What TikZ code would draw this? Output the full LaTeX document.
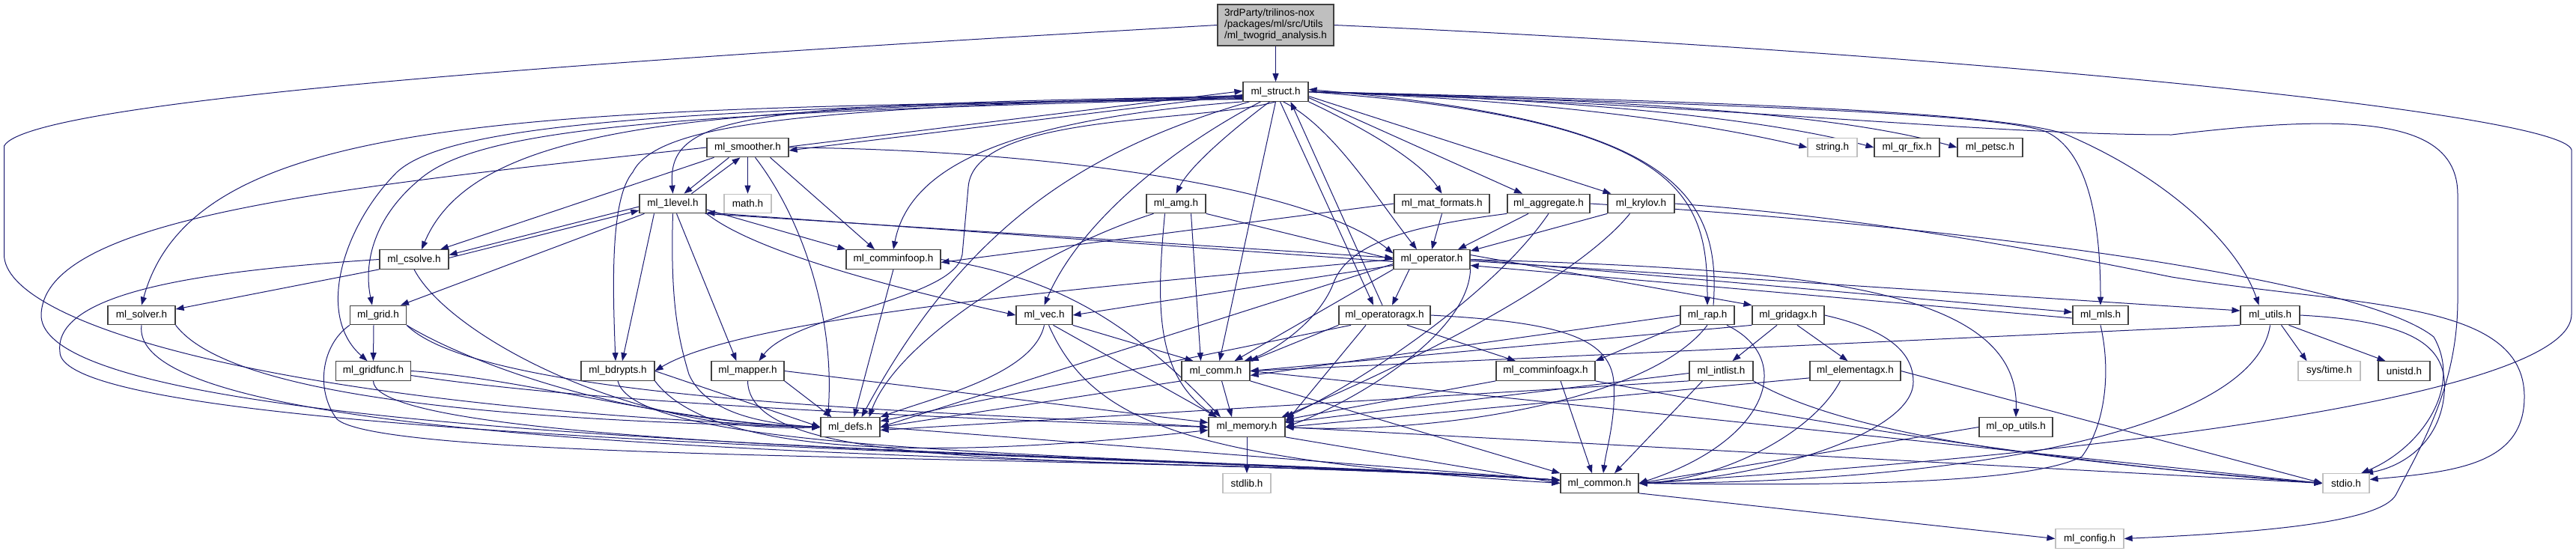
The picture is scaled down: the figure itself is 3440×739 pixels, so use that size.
\documentclass[tikz,border=0pt]{standalone}
\usepackage{fontspec}
\setmainfont{Liberation Sans}
\usetikzlibrary{arrows.meta}
\definecolor{edgec}{HTML}{191970}
\definecolor{sysb}{HTML}{BFBFBF}
\definecolor{rootf}{HTML}{BFBFBF}
\definecolor{boxb}{HTML}{404040}
\newcommand\nodefont{\fontsize{13.5}{15}\selectfont}
\pgfdeclarelayer{bg}
\pgfsetlayers{bg,main}
\begin{document}
\begin{tikzpicture}[x=1pt,y=-1pt,
  hdr/.style={draw=boxb, fill=white, line width=1.2pt, minimum height=25.5pt, inner sep=0pt, font=\nodefont},
  sysh/.style={hdr, draw=sysb},
  rooth/.style={hdr, fill=rootf},
  dep/.style={draw=edgec, line width=1pt, -{Triangle[length=11pt,width=8pt]}}]
\useasboundingbox (0,0) rectangle (3440,739);
% nodes
\node[rooth, minimum width=155pt, minimum height=55pt, align=left] (root) at (1703.5,33.5) {3rdParty/trilinos-nox\\/packages/ml/src/Utils\\/ml\_twogrid\_analysis.h};
\node[hdr, minimum width=87pt] (struct) at (1703.5,122.5) {ml\_struct.h};
\node[hdr, minimum width=109pt] (smoother) at (998.5,197) {ml\_smoother.h};
\node[sysh, minimum width=66pt] (string) at (2447,197) {string.h};
\node[hdr, minimum width=87pt] (qrfix) at (2546.5,197) {ml\_qr\_fix.h};
\node[hdr, minimum width=87pt] (petsc) at (2657.5,197) {ml\_petsc.h};
\node[hdr, minimum width=89pt] (lvl) at (898.5,272) {ml\_1level.h};
\node[sysh, minimum width=63pt] (math) at (998.5,272) {math.h};
\node[hdr, minimum width=79pt] (amg) at (1570.5,272) {ml\_amg.h};
\node[hdr, minimum width=127pt] (matf) at (1925.5,272) {ml\_mat\_formats.h};
\node[hdr, minimum width=110pt] (aggr) at (2068,272) {ml\_aggregate.h};
\node[hdr, minimum width=89pt] (krylov) at (2191.5,272) {ml\_krylov.h};
\node[hdr, minimum width=92pt] (csolve) at (553,346.5) {ml\_csolve.h};
\node[hdr, minimum width=126pt] (cinfoop) at (1193,346.5) {ml\_comminfoop.h};
\node[hdr, minimum width=102pt] (oper) at (1912,346.5) {ml\_operator.h};
\node[hdr, minimum width=90pt] (solver) at (189,421) {ml\_solver.h};
\node[hdr, minimum width=75pt] (grid) at (505,421) {ml\_grid.h};
\node[hdr, minimum width=75pt] (vec) at (1394.5,421) {ml\_vec.h};
\node[hdr, minimum width=122pt] (opagx) at (1849,421) {ml\_operatoragx.h};
\node[hdr, minimum width=72pt] (rap) at (2280,421) {ml\_rap.h};
\node[hdr, minimum width=96pt] (gridagx) at (2388,421) {ml\_gridagx.h};
\node[hdr, minimum width=74pt] (mls) at (2805,421) {ml\_mls.h};
\node[hdr, minimum width=79pt] (utils) at (3031.5,421) {ml\_utils.h};
\node[hdr, minimum width=100pt] (gridfunc) at (498.5,495.5) {ml\_gridfunc.h};
\node[hdr, minimum width=98pt] (bdry) at (825,495.5) {ml\_bdrypts.h};
\node[hdr, minimum width=97pt] (mapper) at (998.5,495.5) {ml\_mapper.h};
\node[hdr, minimum width=91pt] (comm) at (1623.5,495.5) {ml\_comm.h};
\node[hdr, minimum width=132pt] (cinfoagx) at (2064,495.5) {ml\_comminfoagx.h};
\node[hdr, minimum width=85pt] (intlist) at (2298.5,495.5) {ml\_intlist.h};
\node[hdr, minimum width=121pt] (elemagx) at (2477.5,495.5) {ml\_elementagx.h};
\node[sysh, minimum width=83pt] (systime) at (3110.5,495.5) {sys/time.h};
\node[hdr, minimum width=69pt] (unistd) at (3210.5,495.5) {unistd.h};
\node[hdr, minimum width=79pt] (defs) at (1135.5,570.5) {ml\_defs.h};
\node[hdr, minimum width=102pt] (memory) at (1665,570.5) {ml\_memory.h};
\node[hdr, minimum width=98pt] (oputils) at (2692,570.5) {ml\_op\_utils.h};
\node[sysh, minimum width=64pt] (stdlib) at (1665,645.5) {stdlib.h};
\node[hdr, minimum width=104pt] (common) at (2136,645.5) {ml\_common.h};
\node[sysh, minimum width=62pt] (stdio) at (3133,645.5) {stdio.h};
\node[sysh, minimum width=91pt] (config) at (2790.5,719.5) {ml\_config.h};
\begin{pgfonlayer}{bg}
% root
\draw[dep] (root) -- (struct);
\draw[dep] (root.west) .. controls (900,75) and (40,130) .. (5.5,195) -- (5.5,340) .. controls (5.5,430) and (350,540) .. (defs.west);
\draw[dep] (root.east) .. controls (2600,70) and (3420,150) .. (3434,200) -- (3434,420) .. controls (3434,520) and (2900,600) .. (common.east);
% struct <-> smoother
\draw[dep] ([yshift=-4pt]struct.west) -- ([yshift=-4pt]smoother.east);
\draw[dep] ([yshift=1pt]smoother.east) -- ([yshift=1pt]struct.west);
% struct fan left
\draw[dep] ([yshift=-6pt]struct.west) .. controls (1000,140) and (890,150) .. (lvl.north);
\draw[dep] ([yshift=-8pt]struct.west) .. controls (1000,145) and (640,150) .. ([xshift=10pt]csolve.north);
\draw[dep] ([yshift=-10pt]struct.west) .. controls (700,145) and (260,150) .. (solver.north);
\draw[dep] ([yshift=-9pt]struct.west) .. controls (900,150) and (640,170) .. (560,240) .. controls (500,290) and (485,350) .. ([xshift=-8pt]grid.north);
\draw[dep] ([yshift=-7pt]struct.west) .. controls (900,145) and (600,165) .. (530,230) .. controls (460,300) and (420,420) .. ([xshift=-8pt]gridfunc.north);
\draw[dep] ([yshift=-5pt]struct.west) .. controls (1100,145) and (880,160) .. (845,230) .. controls (815,265) and (818,380) .. ([xshift=-3pt]bdry.north);
\draw[dep] (struct.south) .. controls (1600,165) and (1300,150) .. (1293,250) -- (1285,340) .. controls (1275,400) and (1060,420) .. ([xshift=15pt]mapper.north);
\draw[dep] (struct.south west) .. controls (1350,160) and (1215,220) .. (cinfoop.north);
\draw[dep] ([xshift=-20pt]struct.south) .. controls (1560,200) and (1440,300) .. (vec.north);
\draw[dep] (struct.south) -- ([xshift=5pt]comm.north);
\draw[dep] ([xshift=-35pt]struct.south) .. controls (1450,200) and (1290,300) .. ([xshift=15pt]defs.north);
\draw[dep] ([xshift=-8pt]struct.south) .. controls (1650,170) and (1590,220) .. (amg.north);
\draw[dep] (struct.south east) .. controls (1840,180) and (1900,220) .. (matf.north);
\draw[dep] ([yshift=-8pt]struct.east) -- ([xshift=-35pt]aggr.north);
\draw[dep] ([yshift=-6pt]struct.east) -- ([xshift=-40pt]krylov.north);
\draw[dep] ([xshift=10pt]struct.south) .. controls (1780,170) and (1835,260) .. ([xshift=-20pt]oper.north);
\draw[dep] ([xshift=6pt]struct.south) -- ([xshift=-15pt]opagx.north);
\draw[dep] ([xshift=-3pt]opagx.north) -- ([xshift=20pt]struct.south);
\draw[dep] (struct.east) .. controls (2250,160) and (2280,260) .. (rap.north);
\draw[dep] ([xshift=8pt]rap.north) .. controls (2300,250) and (2220,160) .. ([yshift=3pt]struct.east);
\draw[dep] (struct.east) .. controls (2100,135) and (2300,170) .. (string.west);
\draw[dep] (struct.east) .. controls (2200,135) and (2400,170) .. (qrfix.west);
\draw[dep] (struct.east) .. controls (2300,135) and (2500,165) .. (petsc.west);
\draw[dep] (struct.east) .. controls (2300,140) and (2650,150) .. (2730,175) .. controls (2790,200) and (2805,300) .. (mls.north);
\draw[dep] (struct.east) .. controls (2300,135) and (2680,150) .. (2760,180) .. controls (2900,240) and (2990,330) .. ([xshift=-15pt]utils.north);
\draw[dep] (struct.east) .. controls (2300,140) and (2650,180) .. (2900,180) .. controls (3150,150) and (3282,160) .. (3282,260) -- (3282,400) .. controls (3282,520) and (3230,600) .. (3200,660) .. controls (3180,700) and (3000,712) .. (config.east);
% smoother
\draw[dep] ([xshift=-25pt]smoother.south) -- ([xshift=15pt]lvl.north);
\draw[dep] ([xshift=25pt]lvl.north) -- ([xshift=-10pt]smoother.south);
\draw[dep] (smoother) -- (math);
\draw[dep] ([xshift=-45pt]smoother.south) -- ([xshift=35pt]csolve.north);
\draw[dep] ([xshift=30pt]smoother.south) -- ([xshift=-25pt]cinfoop.north);
\draw[dep] (smoother.east) .. controls (1400,200) and (1750,250) .. ([yshift=8pt]oper.west);
\draw[dep] ([xshift=10pt]smoother.south) .. controls (1070,290) and (1115,420) .. ([xshift=-30pt]defs.north);
\draw[dep] (smoother.west) .. controls (450,250) and (60,290) .. (55,420) .. controls (50,600) and (1500,600) .. ([yshift=4pt]common.west);
% 1level
\draw[dep] ([yshift=-4pt]lvl.west) -- ([yshift=6pt]csolve.east);
\draw[dep] ([yshift=2pt]csolve.east) -- ([yshift=-9pt]lvl.west);
\draw[dep] ([xshift=-38pt]lvl.south) -- ([xshift=30pt]grid.north);
\draw[dep] ([xshift=-25pt]lvl.south) -- ([xshift=6pt]bdry.north);
\draw[dep] ([xshift=5pt]lvl.south) -- ([xshift=-15pt]mapper.north);
\draw[dep] (lvl.south) .. controls (895,400) and (905,450) .. (920,500) .. controls (940,545) and (1000,565) .. (defs.west);
\draw[dep] (lvl.south east) .. controls (1000,330) and (1150,375) .. (vec.west);
\draw[dep] ([yshift=-8pt]lvl.east) -- (cinfoop.north west);
\draw[dep] ([yshift=-3pt]oper.west) -- ([yshift=-12pt]lvl.east);
\draw[dep] ([xshift=-2pt]lvl.south east) -- ([yshift=2pt]oper.west);
% csolve
\draw[dep] (csolve.south west) -- ([yshift=8pt]solver.east);
\draw[dep] (csolve.west) .. controls (300,360) and (70,385) .. (80,470) .. controls (80,590) and (1500,605) .. ([yshift=4pt]common.west);
\draw[dep] (csolve.south) .. controls (600,450) and (850,580) .. (defs.west);
% solver
\draw[dep] (solver.south east) .. controls (300,520) and (600,560) .. (defs.west);
\draw[dep] (solver.south) .. controls (165,620) and (1500,605) .. ([yshift=4pt]common.west);
% grid
\draw[dep] ([xshift=-6pt]grid.south) -- (gridfunc.north);
\draw[dep] (grid.south west) .. controls (430,460) and (420,520) .. (450,560) .. controls (520,620) and (1500,605) .. ([yshift=4pt]common.west);
\draw[dep] (grid.south east) .. controls (600,470) and (800,560) .. (defs.west);
\draw[dep] (grid.south east) .. controls (650,540) and (1300,550) .. (memory.west);
% gridfunc
\draw[dep] (gridfunc.east) .. controls (700,505) and (900,565) .. (defs.west);
\draw[dep] ([yshift=-6pt]gridfunc.east) .. controls (800,540) and (1300,560) .. (memory.west);
\draw[dep] (gridfunc.south) .. controls (500,600) and (1500,605) .. ([yshift=4pt]common.west);
% bdrypts
\draw[dep] (bdry.east) -- (defs.west);
\draw[dep] (bdry.south east) .. controls (950,610) and (1250,615) .. ([yshift=-4pt]memory.west);
\draw[dep] (bdry.south) .. controls (850,610) and (1500,605) .. ([yshift=4pt]common.west);
% mapper
\draw[dep] (mapper.south east) -- ([xshift=-25pt]defs.north);
\draw[dep] (mapper.east) -- ([yshift=6pt]memory.west);
\draw[dep] (mapper.south) .. controls (1000,640) and (1500,605) .. ([yshift=4pt]common.west);
% comminfoop
\draw[dep] (cinfoop.east) .. controls (1400,370) and (1500,420) .. ([xshift=-35pt]memory.north);
\draw[dep] (cinfoop.south) -- ([xshift=5pt]defs.north);
% vec
\draw[dep] (vec.south east) -- ([xshift=-30pt]comm.north);
\draw[dep] (vec.south) .. controls (1380,500) and (1250,530) .. (defs.north east);
\draw[dep] ([xshift=12pt]vec.south) -- ([xshift=-40pt]memory.north);
\draw[dep] ([xshift=6pt]vec.south) .. controls (1460,570) and (1600,615) .. (common.west);
% comm
\draw[dep] ([xshift=8pt]comm.south) -- ([xshift=-20pt]memory.north);
\draw[dep] (comm.south west) -- (defs.east);
\draw[dep] (comm.south east) -- (common.north west);
\draw[dep] (comm.east) -- (stdio.west);
% memory
\draw[dep] (memory) -- (stdlib);
\draw[dep] (memory.south east) -- (common.west);
\draw[dep] (memory.east) -- (stdio.west);
% defs
\draw[dep] (defs.east) -- ([yshift=4pt]common.west);
% amg
\draw[dep] (amg.south east) -- (oper.west);
\draw[dep] ([xshift=20pt]amg.south) -- ([xshift=-20pt]comm.north);
\draw[dep] ([xshift=-15pt]amg.south) .. controls (1545,400) and (1540,500) .. ([xshift=-40pt]memory.north);
\draw[dep] ([xshift=-30pt]amg.south) .. controls (1400,330) and (1200,450) .. ([xshift=25pt]defs.north);
% mat_formats
\draw[dep] (matf.south) -- (oper.north);
\draw[dep] (matf.west) -- ([yshift=-4pt]cinfoop.east);
% aggregate
\draw[dep] ([xshift=-27pt]aggr.south) -- ([xshift=35pt]oper.north);
\draw[dep] (aggr.south west) .. controls (1900,300) and (1800,320) .. (1780,380) .. controls (1760,430) and (1700,470) .. ([xshift=-8pt]comm.north east);
\draw[dep] (aggr.south) .. controls (1990,400) and (1800,520) .. (memory.north east);
\draw[dep] (aggr.east) .. controls (2600,300) and (3150,370) .. (3250,450) .. controls (3290,520) and (3230,600) .. ([xshift=20pt]stdio.north);
% krylov
\draw[dep] (krylov.south west) -- ([yshift=-2pt]oper.north east);
\draw[dep] ([xshift=-15pt]krylov.south) .. controls (2100,380) and (1850,500) .. ([xshift=-5pt]memory.north east);
\draw[dep] (krylov.east) .. controls (2500,290) and (2750,340) .. (2900,370) .. controls (3150,410) and (3371,400) .. (3371,530) .. controls (3371,620) and (3280,630) .. ([yshift=5pt]stdio.east);
% operator
\draw[dep] ([yshift=-8pt]oper.west) -- (vec.east);
\draw[dep] (oper.south west) -- ([xshift=25pt]comm.north);
\draw[dep] ([yshift=-6pt]oper.west) -- (defs.east);
\draw[dep] (oper.south east) .. controls (1960,450) and (1800,540) .. (memory.east);
\draw[dep] ([xshift=-30pt]oper.south) -- ([xshift=10pt]opagx.north);
\draw[dep] ([yshift=6pt]oper.east) -- (gridagx.north west);
\draw[dep] (oper.east) -- ([yshift=4pt]mls.west);
\draw[dep] ([yshift=-2pt]oper.east) -- ([yshift=6pt]utils.west);
\draw[dep] ([yshift=-4pt]mls.west) -- ([yshift=-8pt]oper.east);
\draw[dep] (oper.east) .. controls (2400,360) and (2698,380) .. (oputils.north);
\draw[dep] (oper.west) .. controls (1500,380) and (1000,420) .. (bdry.east);
% operatoragx
\draw[dep] (opagx.south west) -- (comm.north east);
\draw[dep] ([xshift=30pt]opagx.south) -- ([xshift=-40pt]cinfoagx.north);
\draw[dep] ([xshift=-25pt]opagx.south) -- ([yshift=6pt]memory.east);
\draw[dep] ([xshift=-45pt]opagx.south) -- ([yshift=8pt]defs.east);
\draw[dep] (opagx.east) .. controls (2080,430) and (2150,450) .. (2155,510) .. controls (2158,560) and (2145,600) .. ([xshift=5pt]common.north);
% rap
\draw[dep] (rap.west) -- ([yshift=-6pt]comm.east);
\draw[dep] (rap.south west) -- (cinfoagx.north east);
\draw[dep] (rap.south) .. controls (2200,540) and (1900,580) .. (memory.east);
\draw[dep] ([xshift=26pt]rap.south) .. controls (2400,480) and (2360,590) .. (common.east);
% gridagx
\draw[dep] ([xshift=-15pt]gridagx.south) -- ([xshift=15pt]intlist.north);
\draw[dep] ([xshift=12pt]gridagx.south) -- ([xshift=-10pt]elemagx.north);
\draw[dep] (gridagx.south west) -- (comm.east);
\draw[dep] (gridagx.east) .. controls (2520,440) and (2555,470) .. (2555,510) .. controls (2555,580) and (2350,640) .. (common.east);
% intlist
\draw[dep] ([yshift=-3pt]intlist.west) -- ([yshift=6pt]memory.east);
\draw[dep] (intlist.south west) -- ([yshift=-4pt]defs.east);
\draw[dep] ([xshift=-25pt]intlist.south) -- ([xshift=20pt]common.north);
\draw[dep] (intlist.south east) .. controls (2480,590) and (2800,620) .. (stdio.west);
% elementagx
\draw[dep] ([yshift=4pt]elemagx.south west) -- (memory.east);
\draw[dep] ([xshift=-20pt]elemagx.south) .. controls (2420,580) and (2300,640) .. (common.east);
\draw[dep] (elemagx.east) -- (stdio.west);
% comminfoagx
\draw[dep] ([xshift=20pt]cinfoagx.south) -- ([xshift=-10pt]common.north);
\draw[dep] (cinfoagx.south west) -- ([yshift=10pt]memory.east);
\draw[dep] (cinfoagx.south east) .. controls (2400,560) and (2750,620) .. (stdio.west);
% op_utils, mls
\draw[dep] (oputils.west) -- (common.east);
\draw[dep] (mls.south) .. controls (2820,500) and (2810,570) .. (2780,610) .. controls (2700,650) and (2400,648) .. (common.east);
% utils
\draw[dep] ([xshift=15pt]utils.south) -- ([xshift=-30pt]systime.north);
\draw[dep] ([xshift=25pt]utils.south) -- ([xshift=-25pt]unistd.north);
\draw[dep] (utils.east) .. controls (3240,430) and (3275,470) .. (3262,540) .. controls (3250,600) and (3200,625) .. ([xshift=25pt]stdio.north);
\draw[dep] (utils.south) .. controls (3010,580) and (2600,645) .. (common.east);
\draw[dep] (utils.south west) -- (comm.east);
% common
\draw[dep] (common.south east) -- (config.west);
\end{pgfonlayer}
\end{tikzpicture}
\end{document}
